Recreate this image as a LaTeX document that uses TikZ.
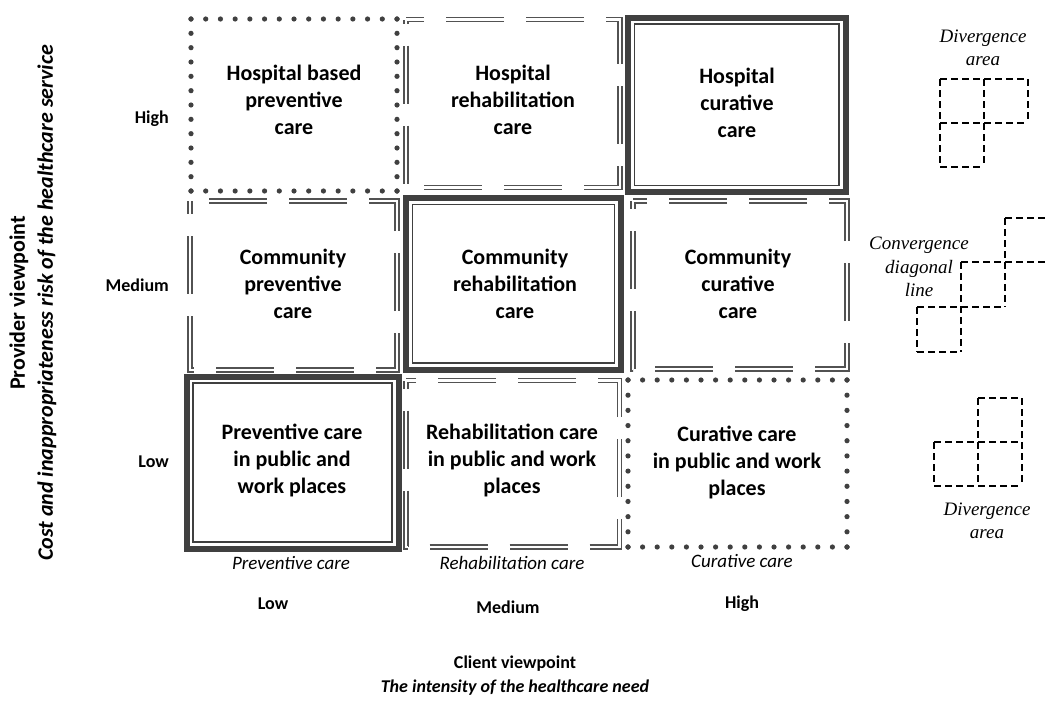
\documentclass[tikz,border=0pt]{standalone}
\usepackage{fontspec}
\setmainfont{Carlito}
\newfontfamily\noteserif{Liberation Serif}

\definecolor{dotcol}{HTML}{404040}
\definecolor{dashcol}{HTML}{525252}
\definecolor{framecol}{HTML}{404040}

\tikzset{
  cell/.style={font=\bfseries\fontsize{22}{27}\selectfont, align=center, inner sep=0pt},
  dashframe/.style={draw=dashcol, line width=1.6pt, double=white, double distance=2.4pt,
                    dash pattern=on 58pt off 22pt},
  bandframe/.style={draw=framecol, line width=6pt},
  innerframe/.style={draw=framecol, line width=1.6pt},
  dotmark/.style={fill=dotcol},
  sketchline/.style={draw=black, line width=1.2pt, dash pattern=on 6.5pt off 4.5pt},
  rowlabel/.style={font=\bfseries\fontsize{18}{22}\selectfont, anchor=east, inner sep=0pt},
  collabel/.style={font=\bfseries\fontsize{18}{22}\selectfont, inner sep=0pt},
  kindlabel/.style={font=\itshape\fontsize{19}{23}\selectfont, inner sep=0pt},
  axistitle/.style={font=\bfseries\fontsize{22}{28}\selectfont, align=center, inner sep=0pt},
  bottomtitle/.style={font=\bfseries\fontsize{18}{24}\selectfont, align=center, inner sep=0pt},
  note/.style={font=\noteserif\itshape\fontsize{19}{23.5}\selectfont, align=center, inner sep=0pt}
}

% frame of round dots: x1 y1 x2 y2, intervals along x, intervals along y
\newcommand\dotframe[6]{%
  \foreach \i in {0,...,#5}{%
    \fill[dotmark] ({#1+(#3-#1)*\i/#5},#2) circle (2.6pt);
    \fill[dotmark] ({#1+(#3-#1)*\i/#5},#4) circle (2.6pt);}%
  \foreach \j in {0,...,#6}{%
    \fill[dotmark] (#1,{#2+(#4-#2)*\j/#6}) circle (2.6pt);
    \fill[dotmark] (#3,{#2+(#4-#2)*\j/#6}) circle (2.6pt);}%
}

\begin{document}
\begin{tikzpicture}[x=1pt,y=-1pt]
\useasboundingbox (0,0) rectangle (1046,704);
\begin{scope}
\clip (0,0) rectangle (1046,704);

% ---- frames of the nine care types ----
% dotted frames
\dotframe{191}{19}{397}{191}{14}{12}
\dotframe{628}{380}{847}{547}{15}{11}

% double dashed frames (drawn anticlockwise from the top left corner)
\draw[dashframe, dash phase=54pt] (406,19.5) -- (406,187.5) -- (620,187.5) -- (620,19.5) -- cycle;
\draw[dashframe, dash phase=45pt] (190,201) -- (190,370) -- (397,370) -- (397,201) -- cycle;
\draw[dashframe, dash phase=50pt] (633,201) -- (633,369) -- (847,369) -- (847,201) -- cycle;
\draw[dashframe, dash phase=50pt] (406,380.5) -- (406,547) -- (619.5,547) -- (619.5,380.5) -- cycle;

% thick-thin frames
\draw[bandframe] (628,17.5) rectangle (845.5,192);
\draw[innerframe] (634.5,24) rectangle (839,185.5);
\draw[bandframe] (406,198) rectangle (621,369.5);
\draw[innerframe] (412.5,204.5) rectangle (614.5,363);
\draw[bandframe] (186.5,376.5) rectangle (398.5,548.5);
\draw[innerframe] (193,383) rectangle (392,542);

% ---- cell texts ----
\node[cell] (hprev) at (294,100) {Hospital based\\preventive\\care};
\node[cell] (hrehab) at (513,100) {Hospital\\rehabilitation\\care};
\node[cell] (hcur) at (737,103) {Hospital\\curative\\care};
\node[cell] (cprev) at (293,284) {Community\\preventive\\care};
\node[cell] (crehab) at (515,284) {Community\\rehabilitation\\care};
\node[cell] (ccur) at (738,284) {Community\\curative\\care};
\node[cell] (pprev) at (292,460) {Preventive care\\in public and\\work places};
\node[cell] (prehab) at (512,460) {Rehabilitation care\\in public and work\\places};
\node[cell] (pcur) at (737,462) {Curative care\\in public and work\\places};

% ---- provider axis ----
\node[rowlabel] (rhigh) at (169,119) {High};
\node[rowlabel] (rmed) at (169,285) {Medium};
\node[rowlabel] (rlow) at (169,462) {Low};
\node[axistitle, rotate=90] (provider) at (33,303)
  {Provider viewpoint\\\textit{Cost and inappropriateness risk of the healthcare service}};

% ---- client axis ----
\node[kindlabel] (kprev) at (291,563) {Preventive care};
\node[kindlabel] (krehab) at (512,563) {Rehabilitation care};
\node[kindlabel] (kcur) at (742,561) {Curative care};
\node[collabel] (clow) at (273,604) {Low};
\node[collabel] (cmed) at (508,607) {Medium};
\node[collabel] (chigh) at (742,604) {High};
\node[bottomtitle] (client) at (515,676)
  {Client viewpoint\\\textit{The intensity of the healthcare need}};

% ---- divergence / convergence sketches ----
\node[note] (divtop) at (983,48) {Divergence\\area};
\draw[sketchline] (940,79) -- (1028,79);
\draw[sketchline] (940,123) -- (1028,123);
\draw[sketchline] (940,167) -- (984,167);
\draw[sketchline] (940,79) -- (940,167);
\draw[sketchline] (984,79) -- (984,167);
\draw[sketchline] (1028,79) -- (1028,123);

\node[note] (conv) at (919,267) {Convergence\\diagonal\\line};
\draw[sketchline] (1005,218) -- (1049,218);
\draw[sketchline] (961,262) -- (1049,262);
\draw[sketchline] (917,307) -- (1005,307);
\draw[sketchline] (917,352) -- (961,352);
\draw[sketchline] (1005,218) -- (1005,307);
\draw[sketchline] (961,262) -- (961,352);
\draw[sketchline] (917,307) -- (917,352);

\draw[sketchline] (978,398) -- (1022,398);
\draw[sketchline] (934,442) -- (1022,442);
\draw[sketchline] (934,486) -- (1022,486);
\draw[sketchline] (934,442) -- (934,486);
\draw[sketchline] (978,398) -- (978,486);
\draw[sketchline] (1022,398) -- (1022,486);
\node[note] (divbot) at (987,521) {Divergence\\area};
\end{scope}
\end{tikzpicture}
\end{document}
